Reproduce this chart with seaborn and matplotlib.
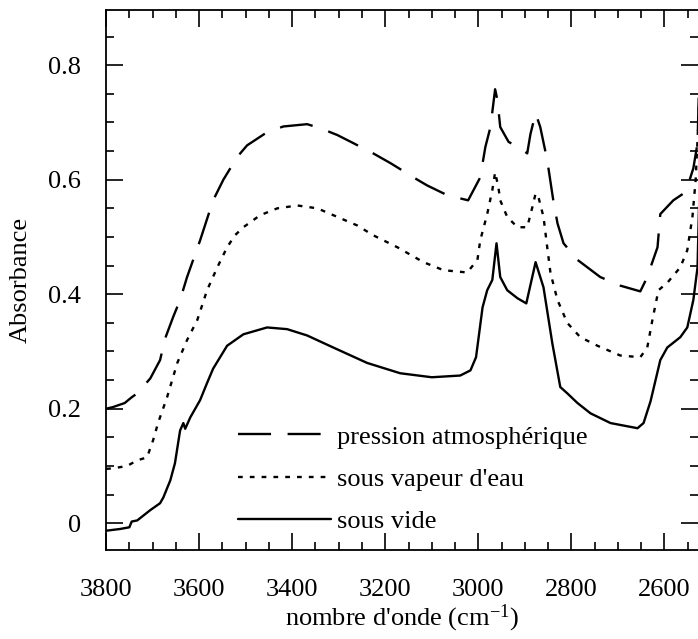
import numpy as np
import pandas as pd
import matplotlib
matplotlib.use('Agg')
import matplotlib.pyplot as plt
import matplotlib.ticker as ticker
import seaborn as sns

# pression atmospherique (tirets)
wn_atm = [3800, 3785, 3760, 3745, 3733, 3705, 3684, 3673, 3656, 3641, 3626, 3598, 3570, 3548,
          3518, 3497, 3454, 3419, 3368, 3340, 3303, 3269, 3226, 3189, 3131, 3110, 3067, 3022,
          2996, 2985, 2974, 2964, 2959, 2953, 2935, 2910, 2895, 2888, 2877, 2867, 2852, 2839,
          2830, 2817, 2787, 2738, 2695, 2652, 2637, 2630, 2615, 2609, 2581, 2559, 2551, 2538,
          2529, 2520]
abs_atm = [0.200, 0.203, 0.210, 0.220, 0.227, 0.253, 0.285, 0.323, 0.360, 0.390, 0.430, 0.494,
           0.564, 0.600, 0.640, 0.660, 0.683, 0.693, 0.697, 0.690, 0.678, 0.664, 0.646, 0.629,
           0.600, 0.590, 0.573, 0.564, 0.604, 0.657, 0.692, 0.758, 0.739, 0.692, 0.666, 0.655,
           0.646, 0.680, 0.716, 0.692, 0.634, 0.564, 0.524, 0.489, 0.460, 0.430, 0.415, 0.405,
           0.430, 0.447, 0.482, 0.540, 0.564, 0.576, 0.587, 0.620, 0.664, 0.950]

# sous vapeur d'eau (pointilles)
wn_eau = [3800, 3785, 3755, 3733, 3712, 3699, 3688, 3669, 3647, 3626, 3604, 3583, 3561, 3540,
          3523, 3505, 3469, 3432, 3389, 3346, 3303, 3260, 3226, 3174, 3118, 3075, 3024, 3002,
          2996, 2981, 2970, 2964, 2957, 2953, 2938, 2916, 2895, 2884, 2877, 2871, 2860, 2852,
          2845, 2830, 2809, 2781, 2744, 2695, 2652, 2637, 2626, 2613, 2594, 2566, 2551, 2540,
          2533, 2529, 2520]
abs_eau = [0.095, 0.096, 0.100, 0.110, 0.115, 0.145, 0.176, 0.220, 0.280, 0.320, 0.355, 0.407,
           0.447, 0.482, 0.503, 0.517, 0.538, 0.550, 0.555, 0.550, 0.535, 0.520, 0.503, 0.482,
           0.456, 0.442, 0.438, 0.460, 0.494, 0.540, 0.582, 0.613, 0.587, 0.564, 0.535, 0.517,
           0.517, 0.552, 0.576, 0.570, 0.535, 0.482, 0.437, 0.390, 0.350, 0.325, 0.310, 0.293,
           0.290, 0.307, 0.355, 0.407, 0.420, 0.447, 0.477, 0.535, 0.600, 0.670, 0.850]

# sous vide (trait plein)
wn_vide = [3800, 3790, 3770, 3750, 3745, 3733, 3705, 3684, 3677, 3662, 3652, 3641, 3634, 3630,
           3619, 3598, 3583, 3570, 3540, 3505, 3454, 3411, 3368, 3312, 3239, 3168, 3100, 3039,
           3017, 3005, 2991, 2981, 2970, 2961, 2953, 2938, 2916, 2897, 2887, 2877, 2860, 2841,
           2824, 2809, 2787, 2759, 2716, 2658, 2645, 2630, 2609, 2594, 2566, 2551, 2538, 2529,
           2520]
abs_vide = [-0.013, -0.012, -0.010, -0.007, 0.003, 0.005, 0.023, 0.035, 0.045, 0.075, 0.105,
            0.162, 0.175, 0.165, 0.185, 0.215, 0.245, 0.270, 0.310, 0.330, 0.342, 0.339, 0.328,
            0.307, 0.280, 0.262, 0.255, 0.258, 0.267, 0.290, 0.377, 0.407, 0.425, 0.489, 0.430,
            0.407, 0.393, 0.384, 0.420, 0.456, 0.412, 0.314, 0.238, 0.227, 0.210, 0.192, 0.175,
            0.166, 0.175, 0.213, 0.285, 0.307, 0.325, 0.342, 0.390, 0.447, 0.750]

labels = ['pression atmosphérique', "sous vapeur d'eau", 'sous vide']

sns.set_theme(style='ticks')
plt.rcParams['font.family'] = ['Liberation Serif', 'DejaVu Serif']
plt.rcParams['mathtext.default'] = 'regular'
plt.rcParams['text.color'] = 'black'
plt.rcParams['axes.labelcolor'] = 'black'
plt.rcParams['xtick.color'] = 'black'
plt.rcParams['ytick.color'] = 'black'

fig = plt.figure(figsize=(6.98, 6.39), dpi=100)
ax = fig.add_axes([0.152, 0.139, 0.848, 0.845])

series = [(wn_atm, abs_atm, (14, 7)), (wn_eau, abs_eau, (2, 3)), (wn_vide, abs_vide, None)]
for (x, y, dash), lab in zip(series, labels):
    df = pd.DataFrame({'wn': x, 'A': y})
    sns.lineplot(data=df, x='wn', y='A', color='black', lw=1.7, label=lab, ax=ax, sort=False)
    if dash is not None:
        ax.lines[-1].set_dashes(dash)

ax.set_xlim(3800, 2528)
ax.set_ylim(-0.047, 0.896)
ax.xaxis.set_major_locator(ticker.MultipleLocator(200))
ax.xaxis.set_minor_locator(ticker.MultipleLocator(50))
ax.yaxis.set_major_locator(ticker.MultipleLocator(0.2))
ax.yaxis.set_minor_locator(ticker.MultipleLocator(0.05))
ax.yaxis.set_major_formatter(ticker.FuncFormatter(lambda v, p: '0' if abs(v) < 1e-9 else f'{v:.1f}'))
ax.tick_params(which='both', direction='in', top=True, right=True, color='black',
               labelcolor='black', width=1.2)
ax.tick_params(which='major', length=12, labelsize=19)
ax.tick_params(axis='x', which='major', pad=21)
ax.tick_params(axis='y', which='major', pad=18)
ax.tick_params(which='minor', length=6)
for s in ['left', 'bottom', 'top']:
    ax.spines[s].set_color('black')
    ax.spines[s].set_linewidth(1.3)
ax.spines['right'].set_visible(False)

ax.set_xlabel("nombre d'onde (cm$^{-1}$)", fontsize=19, labelpad=1, color='black')
ax.set_ylabel('Absorbance', fontsize=19, labelpad=12, color='black')

leg = ax.legend(loc='lower left', bbox_to_anchor=(0.183, -0.013), frameon=False, fontsize=19,
                handlelength=3.5, handletextpad=0.25, labelspacing=0.72)
for h in leg.get_lines():
    h.set_linewidth(1.7)
for t in leg.get_texts():
    t.set_color('black')

fig.savefig('out.png', dpi=100)
